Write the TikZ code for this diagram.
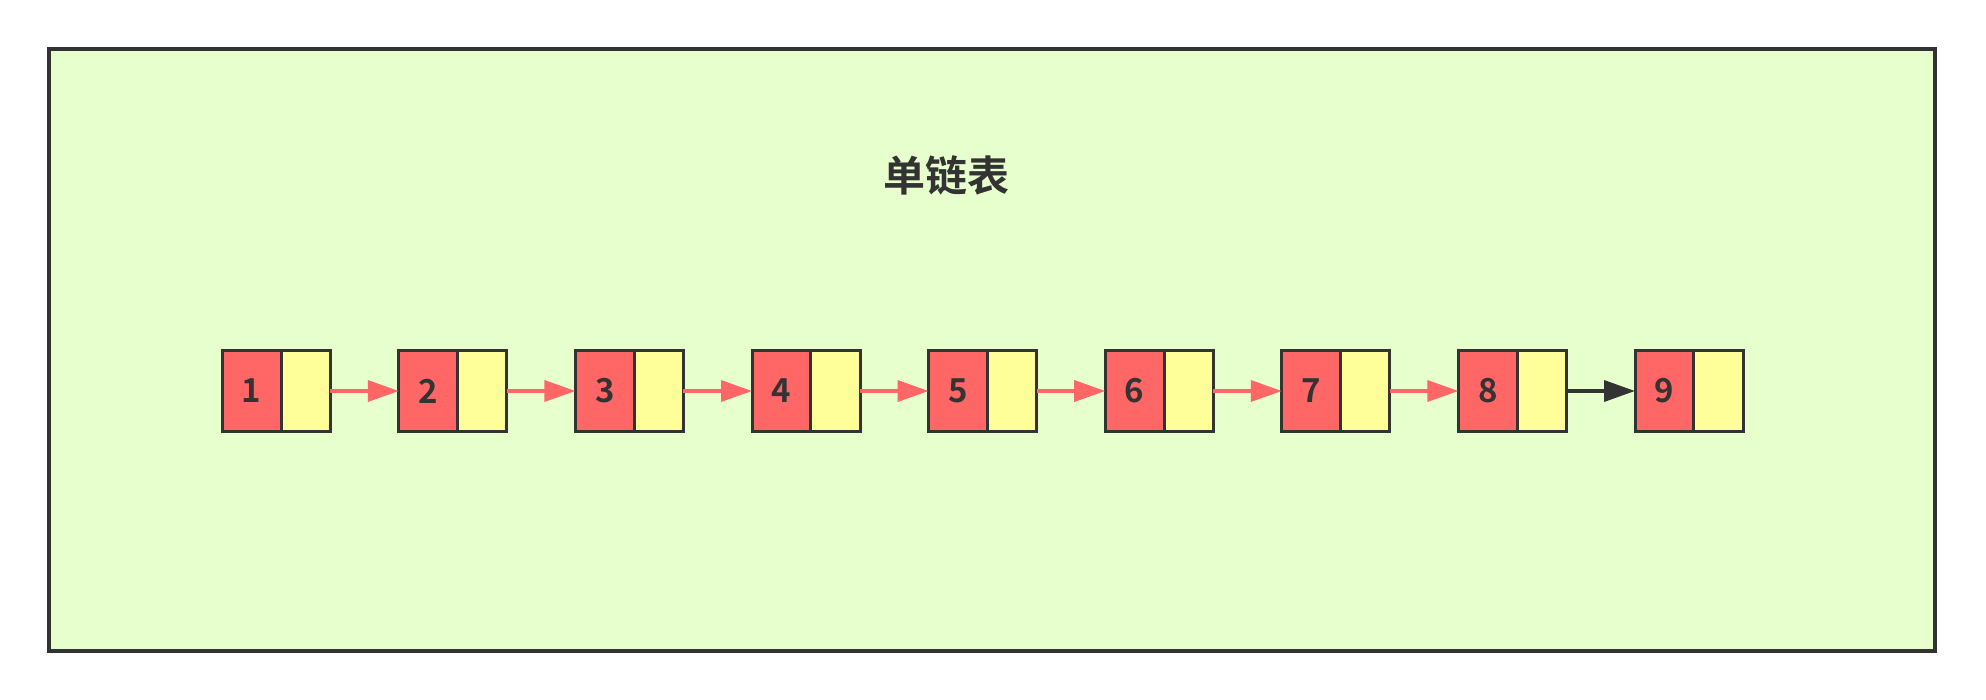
\documentclass[tikz,border=0pt]{standalone}
\usepackage{fontspec}
\newfontfamily\cjk{Noto Sans CJK SC}[BoldFont={Noto Sans CJK SC Bold}]
\usetikzlibrary{arrows.meta}
\definecolor{bgg}{HTML}{E6FFCC}
\definecolor{dk}{HTML}{333333}
\definecolor{rd}{HTML}{FF6666}
\definecolor{yl}{HTML}{FFFF99}
\tikzset{
  datab/.style={draw=dk, fill=rd, line width=3pt, outer sep=0pt, minimum width=58.8pt, minimum height=80.7pt, inner sep=0pt, font=\cjk\bfseries\fontsize{33pt}{36pt}\selectfont, text=dk},
  ptrb/.style={draw=dk, fill=yl, line width=3pt, outer sep=0pt, minimum width=49.2pt, minimum height=80.7pt, inner sep=0pt},
  link/.style={draw=rd, line width=3.5pt, -{Triangle[length=31pt,width=21pt]}},
  lastlink/.style={draw=dk, line width=3.5pt, -{Triangle[length=31pt,width=21pt]}},
}
\begin{document}
\begin{tikzpicture}[x=1pt,y=-1pt]
\useasboundingbox (0,0) rectangle (1986,700);
\node[draw=dk, fill=bgg, line width=4pt, minimum width=1886pt, minimum height=601pt, inner sep=0pt] (frame) at (992,350) {};
\node[font=\cjk\bfseries\fontsize{42pt}{48pt}\selectfont, text=dk] (title) at (946,175) {单链表};
\foreach \i in {1,...,9} {
  \pgfmathsetmacro{\xx}{251.6+176.6*(\i-1)}
  \node[datab] (d\i) at (\xx,391) {\i};
  \node[ptrb, anchor=west] (p\i) at (d\i.east) {};
}
\foreach \i [evaluate=\i as \j using int(\i+1)] in {1,...,7} {
  \draw[link] (p\i.east) -- (d\j.west);
}
\draw[lastlink] (p8.east) -- (d9.west);
\end{tikzpicture}
\end{document}
